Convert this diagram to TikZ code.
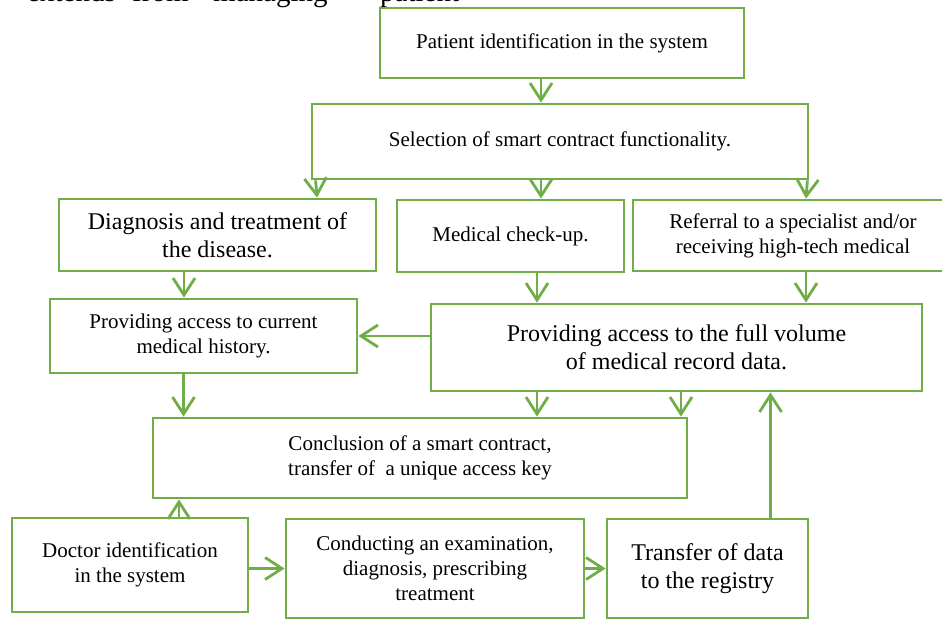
\documentclass[tikz,border=0pt]{standalone}
\usepackage{fontspec}
\setmainfont{Liberation Serif}
\usetikzlibrary{arrows.meta}
\definecolor{boxgreen}{RGB}{112,173,71}
\tikzset{
  box/.style={draw=boxgreen, line width=2.8pt, fill=white, align=center, inner sep=0pt},
  small/.style={font=\fontsize{21}{25}\selectfont},
  big/.style={font=\fontsize{24}{28}\selectfont},
  arr/.style={draw=boxgreen, line width=2.8pt, -{Straight Barb[length=17pt,width=22pt]}}
}
\begin{document}
\begin{tikzpicture}[x=1pt,y=-1pt]
  \useasboundingbox (0,0) rectangle (942,619);
  \node[anchor=base west, inner sep=0pt, font=\fontsize{29}{33}\selectfont] (bodytext) at (27,1)
    {\makebox[105pt][l]{extends}\makebox[81pt][l]{from}\makebox[167pt][l]{managing}patient};
  \node[box,small,minimum width=364pt,minimum height=70pt] (patient) at (562,43) {Patient identification in the system};
  \node[box,small,minimum width=496pt,minimum height=75pt] (select) at (560,141.5) {Selection of smart contract functionality.};
  \node[box,big,minimum width=317pt,minimum height=72pt] (diag) at (217.5,235) {Diagnosis and treatment of\\the disease.};
  \node[box,small,minimum width=227pt,minimum height=72pt] (check) at (510.5,236) {Medical check-up.};
  \node[box,small,minimum width=320pt,minimum height=71pt] (refer) at (793,235.5) {Referral to a specialist and/or\\receiving high-tech medical};
  \node[box,small,minimum width=307pt,minimum height=74pt] (current) at (203.5,336) {Providing access to current\\medical history.};
  \node[box,big,minimum width=491pt,minimum height=87pt] (full) at (676.5,347.5) {Providing access to the full volume\\of medical record data.};
  \node[box,small,minimum width=534pt,minimum height=80pt] (concl) at (420,458) {Conclusion of a smart contract,\\transfer of\ \ a unique access key};
  \node[box,small,minimum width=236pt,minimum height=94pt] (doctor) at (130,565) {Doctor identification\\in the system};
  \node[box,small,minimum width=298pt,minimum height=99pt] (conduct) at (435,568.5) {Conducting an examination,\\diagnosis, prescribing\\treatment};
  \node[box,big,minimum width=201pt,minimum height=99pt] (transfer) at (707.5,568.5) {Transfer of data\\to the registry};
  \draw[arr] ([xshift=-21pt]patient.south) -- ([xshift=-19pt]select.north);
  \draw[arr] ([xshift=5pt]select.south west) -- ([xshift=99.5pt]diag.north);
  \draw[arr] ([xshift=-19pt]select.south) -- ([xshift=30.5pt]check.north);
  \draw[arr] ([xshift=-2pt]select.south east) -- ([xshift=13pt]refer.north);
  \draw[arr] ([xshift=-33.5pt]diag.south) -- ([xshift=-19.5pt]current.north);
  \draw[arr] ([xshift=26.5pt]check.south) -- ([xshift=-139.5pt]full.north);
  \draw[arr] ([xshift=13pt]refer.south) -- ([xshift=129.5pt]full.north);
  \draw[arr] (current.east -| full.west) -- (current.east);
  \draw[arr] ([xshift=-20pt]current.south) -- ([xshift=-236.5pt]concl.north);
  \draw[arr] ([xshift=-139.5pt]full.south) -- ([xshift=117pt]concl.north);
  \draw[arr] ([xshift=4.5pt]full.south) -- ([xshift=261pt]concl.north);
  \draw[arr] ([xshift=49pt]doctor.north) -- ([xshift=-241pt]concl.south);
  \draw[arr] (doctor.east |- conduct.west) -- (conduct.west);
  \draw[arr] (conduct.east) -- (transfer.west);
  \draw[arr] ([xshift=63pt]transfer.north) -- ([xshift=94pt]full.south);
\end{tikzpicture}
\end{document}
